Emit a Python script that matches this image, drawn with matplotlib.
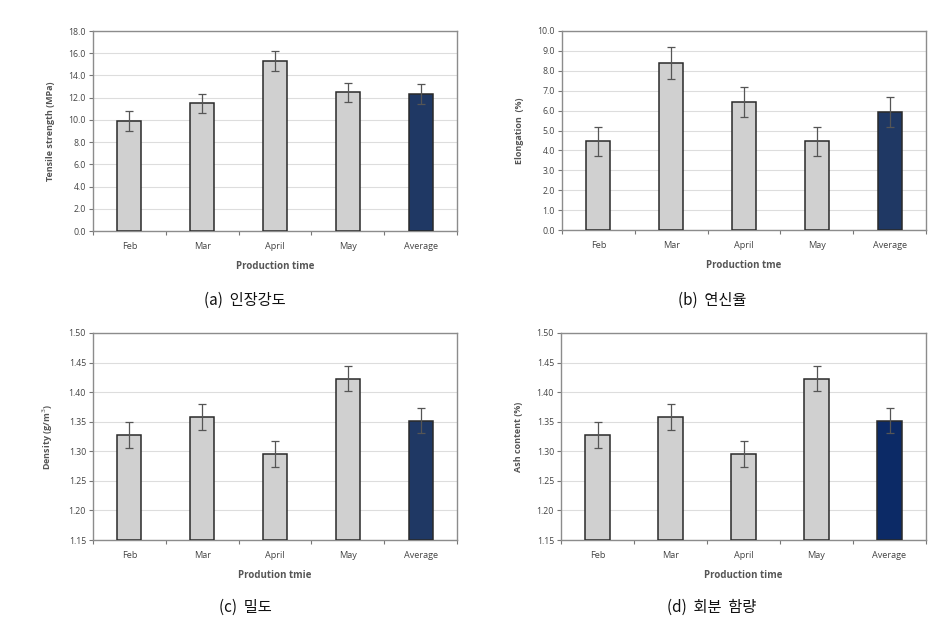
import matplotlib
matplotlib.use("Agg")
import matplotlib.pyplot as plt
import numpy as np

plt.rcParams['font.family'] = ['Open Sans', 'DejaVu Sans']

months = ['Feb', 'Mar', 'April', 'May', 'Average']

tensile = [9.9, 11.5, 15.3, 12.5, 12.3]
tensile_err = [0.9, 0.85, 0.9, 0.85, 0.9]

elong = [4.45, 8.4, 6.45, 4.45, 5.95]
elong_err = [0.75, 0.8, 0.75, 0.75, 0.75]

density = [1.327, 1.358, 1.296, 1.423, 1.352]
density_err = [0.022, 0.022, 0.022, 0.021, 0.021]

ash = [1.327, 1.358, 1.296, 1.423, 1.352]
ash_err = [0.022, 0.022, 0.022, 0.021, 0.021]

W, H = 942, 618
fig = plt.figure(figsize=(W / 100, H / 100), dpi=100)


def px_axes(l, t, r, b):
    return fig.add_axes([l / W, 1 - b / H, (r - l) / W, (b - t) / H])


def panel(ax, vals, errs, ylo, yhi, step, fmt, ylabel, xlabel, avg_color, caption, cap_xy):
    x = np.arange(len(months))
    colors = ['#d0d0d0'] * 4 + [avg_color]
    ax.bar(x, [v - ylo for v in vals], bottom=ylo, width=0.33, color=colors,
           edgecolor='#2a2a2a', linewidth=1.1, zorder=3)
    ax.errorbar(x, vals, yerr=errs, fmt='none', ecolor='#555555',
                elinewidth=0.9, capsize=3, capthick=0.9, zorder=4)
    ax.set_xlim(-0.5, len(months) - 0.5)
    ax.set_ylim(ylo, yhi)
    ticks = np.arange(ylo, yhi + step / 2, step)
    ax.set_yticks(ticks)
    ax.set_yticklabels([fmt.format(t) for t in ticks], fontsize=6.3, color='#444444')
    ax.yaxis.grid(True, color='#dddddd', linewidth=0.8, zorder=0)
    ax.set_axisbelow(True)
    ax.set_xticks(np.arange(-0.5, len(months), 1.0))
    ax.set_xticklabels([])
    ax.set_xticks(x, minor=True)
    ax.set_xticklabels(months, minor=True, fontsize=6.6, color='#444444')
    ax.tick_params(axis='x', which='minor', length=0, pad=8)
    ax.tick_params(axis='x', which='major', length=3, color='#777777', direction='out')
    ax.tick_params(axis='y', length=3, color='#777777', pad=2)
    for s in ax.spines.values():
        s.set_color('#8c8c8c')
        s.set_linewidth(1.0)
    ax.set_ylabel(ylabel, fontsize=6.5, fontweight='bold', color='#555555', labelpad=10)
    ax.set_xlabel(xlabel, fontsize=7, fontweight='bold', color='#555555', labelpad=7)
    fig.text(cap_xy[0] / W, 1 - cap_xy[1] / H, caption, ha='center', va='center',
             fontsize=11, family=['Noto Sans CJK KR', 'DejaVu Sans'], color='#111111')


ax1 = px_axes(93, 31, 457, 231)
panel(ax1, tensile, tensile_err, 0.0, 18.0, 2.0, '{:.1f}', 'Tensile strength (MPa)',
      'Production time', '#1f3864', '(a)  인장강도', (245, 300))

ax2 = px_axes(562, 31, 926, 230)
panel(ax2, elong, elong_err, 0.0, 10.0, 1.0, '{:.1f}', 'Elongation  (%)',
      'Production tme', '#1f3864', '(b)  연신율', (712, 300))

ax3 = px_axes(93, 333, 457, 540)
panel(ax3, density, density_err, 1.15, 1.50, 0.05, '{:.2f}', 'Density (g/m$^3$)',
      'Prodution tmie', '#1f3864', '(c)  밀도', (245, 607))

ax4 = px_axes(561, 333, 926, 540)
panel(ax4, ash, ash_err, 1.15, 1.50, 0.05, '{:.2f}', 'Ash content (%)',
      'Production time', '#0c2a66', '(d)  회분  함량', (712, 607))

fig.savefig('out.png', dpi=100)
